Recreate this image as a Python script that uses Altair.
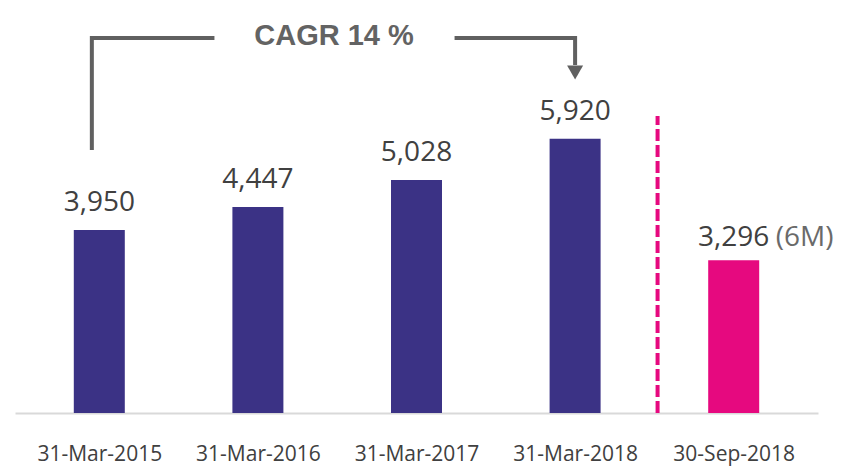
import altair as alt
import pandas as pd

# ---- data ----
categories = ["31-Mar-2015", "31-Mar-2016", "31-Mar-2017", "31-Mar-2018", "30-Sep-2018"]
values = [3950, 4447, 5028, 5920, 3296]
kinds = ["Annual", "Annual", "Annual", "Annual", "Half-year"]
suffixes = ["", "", "", "", "(6M)"]
positions = [0, 1, 2, 3, 4]

# annotation (CAGR bracket) in data units
cagr_text = ["CAGR 14 %"]
cagr_text_x = [1.48]
cagr_text_y = [8137]
bracket_path = ["left", "left", "left", "right", "right", "right"]
bracket_order = [0, 1, 2, 0, 1, 2]
bracket_x = [-0.047, -0.047, 0.726, 2.24, 3.0, 3.0]
bracket_y = [5677, 8094, 8094, 8094, 8094, 7511]
arrow_x = [3.0]
arrow_y = [7349]
separator_x = [3.52]
separator_y_top = [6410]

NAVY = "#3B3285"
PINK = "#E6097F"
GRAY = "#606060"

df = pd.DataFrame({"pos": positions, "value": values, "kind": kinds,
                   "cat": categories, "suffix": suffixes})
bracket_df = pd.DataFrame({"path": bracket_path, "order": bracket_order,
                           "x": bracket_x, "y": bracket_y})
arrow_df = pd.DataFrame({"x": arrow_x, "y": arrow_y})
sep_df = pd.DataFrame({"x": separator_x, "y": [0], "y2": separator_y_top})
cagr_df = pd.DataFrame({"x": cagr_text_x, "y": cagr_text_y, "t": cagr_text})

label_expr = "[" + ",".join("'%s'" % c for c in categories) + "][datum.value]"

xscale = alt.Scale(domain=[-0.5, 4.5], nice=False, zero=False)
yscale = alt.Scale(domain=[0, 8914], nice=False, zero=True)

x_enc = alt.X("pos:Q", scale=xscale,
              axis=alt.Axis(values=positions, labelExpr=label_expr, ticks=False,
                            grid=False, domainColor="#d9d9d9", domainWidth=2,
                            labelFont="Open Sans", labelFontSize=21,
                            labelColor="#404040", labelPadding=30, title=None))
y_enc = alt.Y("value:Q", scale=yscale, axis=None)

base = alt.Chart(df)

bars = base.mark_bar(size=51).encode(
    x=x_enc, y=y_enc,
    color=alt.Color("kind:N", scale=alt.Scale(domain=["Annual", "Half-year"],
                                              range=[NAVY, PINK]), legend=None))

annual_labels = base.transform_filter("datum.kind == 'Annual'").mark_text(
    dy=-19, baseline="alphabetic", fontSize=28, font="Open Sans", color="#404040"
).encode(x=x_enc, y=y_enc, text=alt.Text("value:Q", format=","))

half_labels = base.transform_filter("datum.kind == 'Half-year'").mark_text(
    dy=-14, baseline="alphabetic", fontSize=28, font="Open Sans", color="#404040"
).encode(x=x_enc, y=y_enc, text=alt.Text("value:Q", format=","))

suffix_labels = base.transform_filter("datum.kind == 'Half-year'").mark_text(
    dx=42, dy=-14, align="left", baseline="alphabetic", fontSize=28,
    font="Open Sans", color="#6a6a6a"
).encode(x=x_enc, y=y_enc, text="suffix:N")

separator = alt.Chart(sep_df).mark_rule(strokeDash=[12, 4], strokeWidth=4, color=PINK).encode(
    x=alt.X("x:Q", scale=xscale), y=alt.Y("y:Q", scale=yscale), y2="y2:Q")

bracket = alt.Chart(bracket_df).mark_line(color=GRAY, strokeWidth=4, strokeJoin="miter").encode(
    x=alt.X("x:Q", scale=xscale), y=alt.Y("y:Q", scale=yscale),
    detail="path:N", order="order:Q")

arrow = alt.Chart(arrow_df).mark_point(shape="triangle-down", size=256, filled=True,
                                       color=GRAY, opacity=1).encode(
    x=alt.X("x:Q", scale=xscale), y=alt.Y("y:Q", scale=yscale))

cagr = alt.Chart(cagr_df).mark_text(font="Liberation Sans", fontWeight="bold", fontSize=29,
                                    color="#636363", baseline="middle", align="center").encode(
    x=alt.X("x:Q", scale=xscale), y=alt.Y("y:Q", scale=yscale), text="t:N")

chart = alt.layer(bars, annual_labels, half_labels, suffix_labels, separator,
                  bracket, arrow, cagr).properties(
    width=803, height=413, autosize="none",
    padding={"left": 15, "top": 0, "right": 29, "bottom": 54},
    background="white"
).configure_view(stroke=None)

chart.save("out.html", embed_options={"renderer": "svg", "actions": False})
